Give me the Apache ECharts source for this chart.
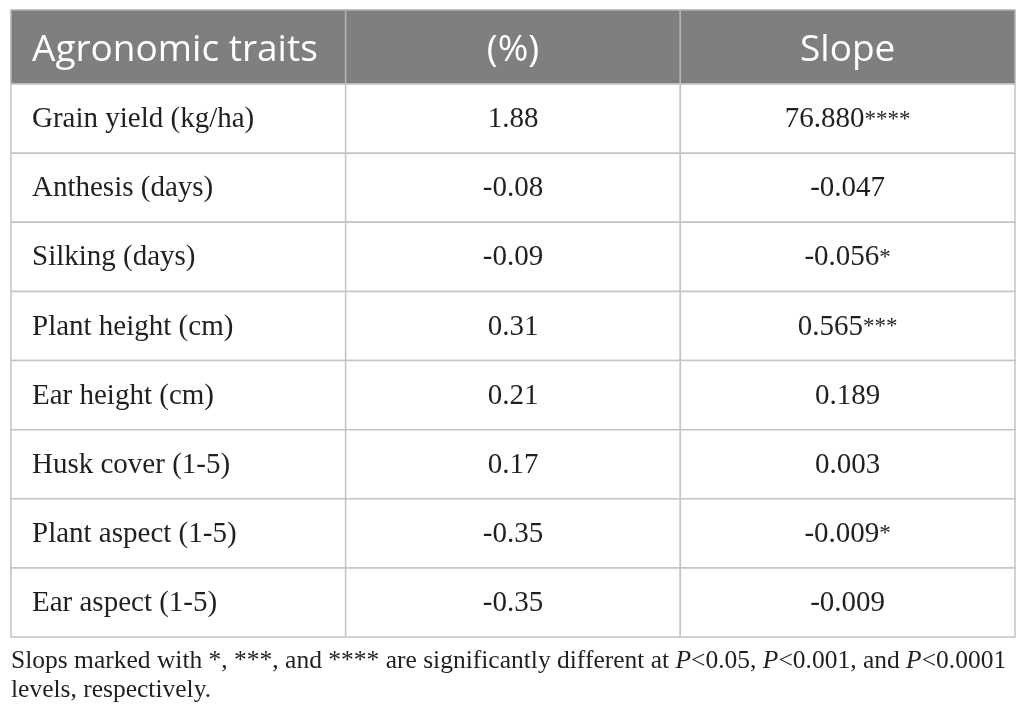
<!DOCTYPE html>
<html>
<head>
<meta charset="utf-8">
<script src="https://cdn.jsdelivr.net/npm/echarts@6/dist/echarts.min.js"></script>
<style>
html, body { margin: 0; padding: 0; background: #fff; }
#main { width: 1026px; height: 726px; }
</style>
</head>
<body>
<div id="main"></div>
<script>
// table content
var headers = ['Agronomic traits', '(%)', 'Slope'];
var traits = ['Grain yield (kg/ha)', 'Anthesis (days)', 'Silking (days)', 'Plant height (cm)',
    'Ear height (cm)', 'Husk cover (1-5)', 'Plant aspect (1-5)', 'Ear aspect (1-5)'];
var percents = [1.88, -0.08, -0.09, 0.31, 0.21, 0.17, -0.35, -0.35];
var slopes = [76.880, -0.047, -0.056, 0.565, 0.189, 0.003, -0.009, -0.009];
var stars = ['****', '', '*', '***', '', '', '*', ''];

var serif = '"Liberation Serif", "Times New Roman", serif';
var sans = '"Open Sans", "Noto Sans", sans-serif';
var ink = '#231f20';
var lineColor = '#c4c4c4';

var chart = echarts.init(document.getElementById('main'));

// one item per cell: [column, row]
var bodyCells = [];
for (var i = 0; i < traits.length; i++) {
    for (var j = 0; j < headers.length; j++) {
        bodyCells.push([j, i]);
    }
}
var headCells = [];
for (var k = 0; k < headers.length; k++) {
    headCells.push([k, 0]);
}

function cellText(col, row) {
    if (col === 0) return traits[row];
    if (col === 1) return percents[row].toFixed(2);
    return slopes[row].toFixed(3) + (stars[row] ? '{s|' + stars[row] + '}' : '');
}

function renderBody(params, api) {
    var col = api.value(0), row = api.value(1);
    var c = api.coord([col, row]);
    var s = api.size([1, 1]);
    var x = c[0] - s[0] / 2, y = c[1] - s[1] / 2;
    return {
        type: 'group',
        children: [
            {
                type: 'rect',
                shape: { x: x, y: y, width: s[0], height: s[1] },
                style: { fill: '#fff', stroke: lineColor, lineWidth: 1.5 }
            },
            {
                type: 'text',
                x: col === 0 ? x + 21 : c[0],
                y: c[1] + 1,
                style: {
                    text: cellText(col, row),
                    fill: ink,
                    fontSize: 29,
                    fontFamily: serif,
                    align: col === 0 ? 'left' : 'center',
                    verticalAlign: 'middle',
                    rich: {
                        s: { fontSize: 23, fontFamily: serif, fill: ink }
                    }
                }
            }
        ]
    };
}

function renderHead(params, api) {
    var col = api.value(0);
    var c = api.coord([col, 0]);
    var s = api.size([1, 1]);
    var x = c[0] - s[0] / 2, y = c[1] - s[1] / 2;
    return {
        type: 'group',
        children: [
            {
                type: 'rect',
                shape: { x: x, y: y, width: s[0], height: s[1] },
                style: { fill: '#7f7f7f', stroke: '#b3b3b3', lineWidth: 1.5 }
            },
            {
                type: 'text',
                x: col === 0 ? x + 21 : c[0],
                y: c[1] + 3,
                style: {
                    text: headers[col],
                    fill: '#fff',
                    fontSize: 37,
                    fontFamily: sans,
                    align: col === 0 ? 'left' : 'center',
                    verticalAlign: 'middle'
                }
            }
        ]
    };
}

var option = {
    animation: false,
    grid: [
        { left: 11, right: 11, top: 10, height: 74 },
        { left: 11, right: 11, top: 84, height: 553 }
    ],
    xAxis: [
        { type: 'category', gridIndex: 0, data: headers, show: false },
        { type: 'category', gridIndex: 1, data: headers, show: false }
    ],
    yAxis: [
        { type: 'category', gridIndex: 0, data: ['head'], show: false },
        { type: 'category', gridIndex: 1, data: traits, inverse: true, show: false }
    ],
    series: [
        {
            type: 'custom',
            xAxisIndex: 0,
            yAxisIndex: 0,
            renderItem: renderHead,
            data: headCells
        },
        {
            type: 'custom',
            xAxisIndex: 1,
            yAxisIndex: 1,
            renderItem: renderBody,
            data: bodyCells
        }
    ],
    graphic: [
        {
            type: 'text',
            left: 11,
            top: 647,
            style: {
                text: 'Slops marked with *, ***, and **** are significantly different at {i|P}<0.05, {i|P}<0.001, and {i|P}<0.0001\nlevels, respectively.',
                fill: ink,
                fontSize: 25.5,
                fontFamily: serif,
                lineHeight: 29,
                rich: {
                    i: { fontStyle: 'italic', fontSize: 25.5, fontFamily: serif, fill: ink, lineHeight: 29 }
                }
            }
        }
    ]
};

chart.setOption(option);
</script>
</body>
</html>
